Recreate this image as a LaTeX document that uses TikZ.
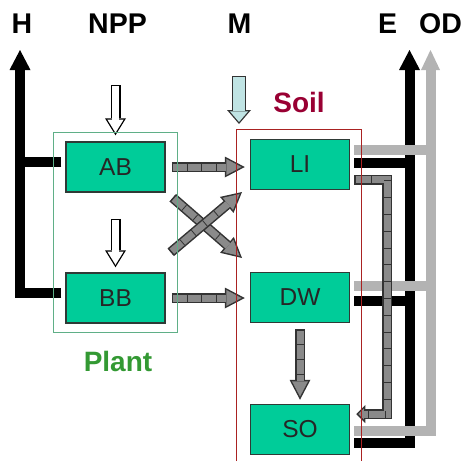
\documentclass[tikz,border=0pt]{standalone}
\usepackage{fontspec}
\setmainfont{Liberation Sans}
\usepackage{xcolor}
\usetikzlibrary{positioning,arrows.meta,fit}

\definecolor{poolgreen}{HTML}{00CC99}
\definecolor{pooledge}{HTML}{2F3A36}
\definecolor{plantline}{HTML}{5FAF87}
\definecolor{plantgreen}{HTML}{339933}
\definecolor{soilline}{HTML}{AA2222}
\definecolor{soilred}{HTML}{990033}
\definecolor{mblue}{HTML}{C0E4E4}
\definecolor{segfill}{HTML}{8A8A8A}
\definecolor{segedge}{HTML}{333333}
\definecolor{odgray}{HTML}{B3B3B3}

\tikzset{
  pool/.style={draw=pooledge, line width=1.5pt, fill=poolgreen, minimum width=99pt,
    minimum height=50pt, inner sep=0pt, font=\fontsize{24.5}{26}\selectfont, text=black!85},
  head/.style={inner sep=0pt, font=\fontsize{28.5}{30}\selectfont\bfseries},
  hollow/.style={draw=black, line width=10pt,
    -{Triangle[length=17pt,width=21pt,line width=0pt]},
    postaction={draw=white, line width=7.4pt, shorten <=1.3pt, shorten >=2.5pt,
      -{Triangle[length=13.2pt,width=16.3pt,line width=0pt]}}},
  inflow/.style={draw=black!80, line width=14pt,
    -{Triangle[length=14pt,width=24pt,line width=0pt]},
    postaction={draw=mblue, line width=11.4pt, shorten <=1.3pt, shorten >=2pt,
      -{Triangle[length=10.7pt,width=18.3pt,line width=0pt]}}},
  segflow/.style={draw=segedge, line width=10pt,
    -{Triangle[length=20pt,width=21pt,line width=0pt]},
    postaction={draw=segfill, line width=7pt, shorten <=1.5pt, shorten >=3.2pt,
      -{Triangle[length=15.3pt,width=16.1pt,line width=0pt]}},
    postaction={draw=segedge, line width=7pt, arrows=-, dash pattern=on 0.8pt off 14pt,
      shorten >=21pt}},
  segbend/.style={draw=segedge, line width=10pt,
    -{Triangle[length=9pt,width=18pt,line width=0pt]},
    postaction={draw=segfill, line width=7pt, shorten <=1.5pt, shorten >=2.1pt,
      -{Triangle[length=5.4pt,width=10.8pt,line width=0pt]}},
    postaction={draw=segedge, line width=7pt, arrows=-, dash pattern=on 0.8pt off 16pt,
      shorten >=10pt}},
  eline/.style={draw=black, line width=10pt},
  odline/.style={draw=odgray, line width=10pt},
  uptip/.style={-{Triangle[length=20pt,width=21pt,line width=0pt]}}
}

\begin{document}
\begin{tikzpicture}[x=1pt, y=-1pt]
  \useasboundingbox (0,0) rectangle (465,461);

  % pools
  \node[pool] (AB) at (115.5,167) {AB};
  \node[pool, below=79.5pt of AB] (BB) {BB};
  \node[pool] (LI) at (300,164.5) {LI};
  \node[pool, below=81.5pt of LI] (DW) {DW};
  \node[pool, below=80.5pt of DW] (SO) {SO};

  % headings
  \node[head] (H) at (22,23.5) {H};
  \node[head] (NPP) at (117.5,23.5) {NPP};
  \node[head] (M) at (239.5,23.5) {M};
  \node[head] (E) at (387.5,23.5) {E};
  \node[head] (OD) at (440.5,23.5) {OD};

  % inputs
  \coordinate (nppin) at (115.5,85);
  \draw[hollow] (nppin) -- ([yshift=6pt]AB.north);
  \draw[hollow] ([yshift=-26pt]AB.south) -- ([yshift=5pt]BB.north);
  \coordinate (min) at (239,76);
  \coordinate (mtip) at (239,124);
  \draw[inflow] (min) -- (mtip);

  % harvest
  \coordinate (Htop) at (20,50);
  \coordinate (hAB) at ([xshift=-4pt,yshift=5pt]AB.west);
  \coordinate (hBB) at ([xshift=-4pt,yshift=5pt]BB.west);
  \draw[eline, uptip] (hBB) -| (Htop);
  \draw[eline] (hAB) -- (hAB -| Htop);

  % E and OD rails
  \coordinate (Etop) at (409.5,50);
  \coordinate (ODtop) at (430.5,50);
  \coordinate (eLI) at ([xshift=4pt,yshift=2pt]LI.east);
  \coordinate (eDW) at ([xshift=4pt,yshift=-3pt]DW.east);
  \coordinate (eSO) at ([xshift=4pt,yshift=-13.5pt]SO.east);
  \coordinate (oLI) at ([xshift=4pt,yshift=15pt]LI.east);
  \coordinate (oDW) at ([xshift=4pt,yshift=12pt]DW.east);
  \coordinate (oSO) at ([xshift=4pt,yshift=-1.5pt]SO.east);
  \draw[eline, uptip] (eSO) -| (Etop);
  \draw[eline] (eLI) -- (eLI -| Etop);
  \draw[eline] (eDW) -- (eDW -| Etop);
  \draw[odline, uptip, -{Triangle[length=20pt,width=19pt,line width=0pt]}] (oSO) -| (ODtop);
  \draw[odline] (oLI) -- (oLI -| ODtop);
  \draw[odline] (oDW) -- (oDW -| ODtop);

  % transfers
  \draw[segflow] ([xshift=6pt]AB.east) -- ([xshift=-5pt]AB.east -| LI.west);
  \draw[segflow] ([xshift=6pt]BB.east) -- ([xshift=-5pt]BB.east -| DW.west);
  \draw[segflow] ([xshift=7pt,yshift=-5pt]AB.south east) -- ([xshift=-7.75pt,yshift=13.75pt]DW.north west);
  \draw[segflow] ([xshift=5pt,yshift=20pt]BB.north east) -- ([xshift=-7.75pt,yshift=-1.75pt]LI.south west);
  \draw[segflow] ([yshift=-6pt]DW.south) -- ([yshift=4pt]SO.north);
  \coordinate (sLI) at ([xshift=4pt,yshift=-15pt]LI.east);
  \coordinate (sSO) at ([xshift=6pt,yshift=15.5pt]SO.east);
  \coordinate (sx) at (387,0);
  \draw[segbend] (sLI) -| (sx |- sSO) -- (sSO);

  % compartments
  \node[draw=plantline, line width=0.9pt, fit=(AB)(BB), inner xsep=12pt, inner ysep=8.5pt] (plant) {};
  \node[font=\fontsize{28}{30}\selectfont\bfseries, text=plantgreen, inner sep=0pt] (plantlbl) at (118,361) {Plant};
  \draw[soilline, line width=1pt] (236,461) |- (361,129) -- (361,461);
  \node[font=\fontsize{28}{30}\selectfont\bfseries, text=soilred, inner sep=0pt] (soillbl) at (299,102.5) {Soil};
\end{tikzpicture}
\end{document}
